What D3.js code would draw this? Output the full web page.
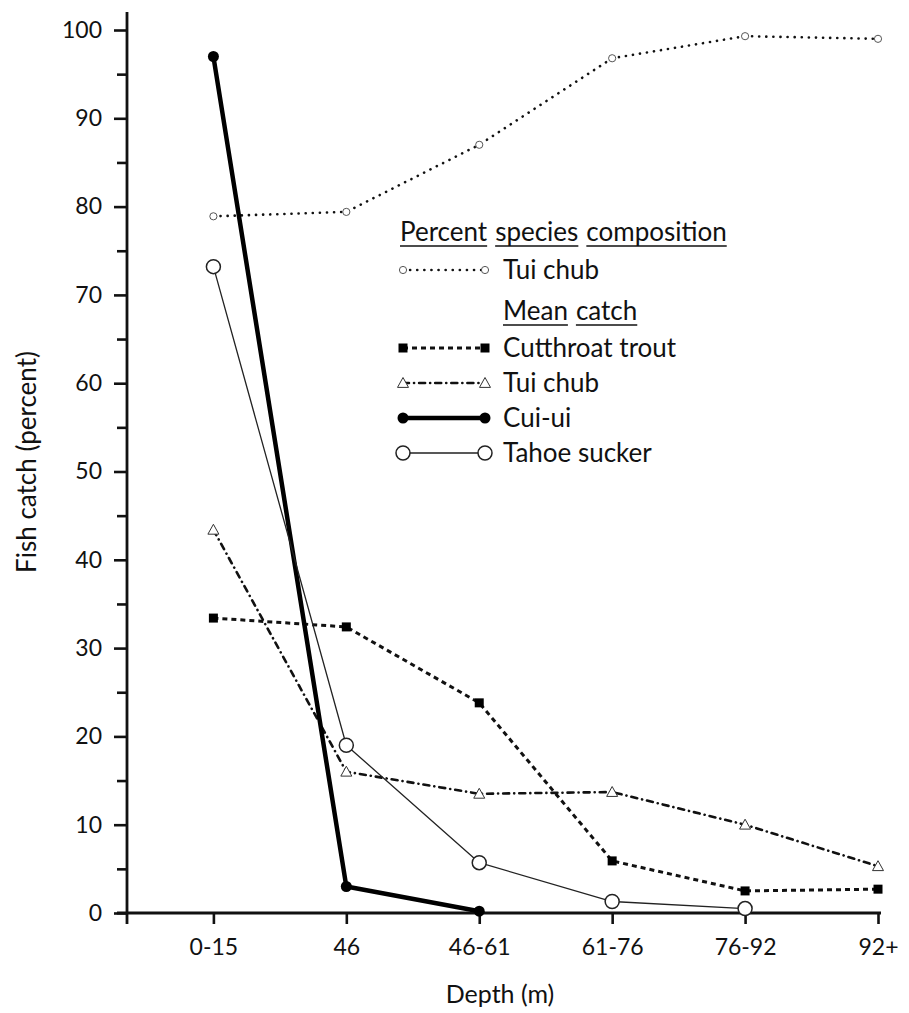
<!DOCTYPE html>
<html>
<head>
<meta charset="utf-8">
<script src="https://cdn.jsdelivr.net/npm/d3@7"></script>
<style>
  html, body { margin: 0; padding: 0; background: #fff; }
  svg { display: block; }
  text { font-family: Lato, "Open Sans", sans-serif; fill: #111; }
</style>
</head>
<body>
<svg id="chart" width="909" height="1013"></svg>
<script>
// ---- Data ----
const categories = ["0-15", "46", "46-61", "61-76", "76-92", "92+"];
const tuiChubPercent = [78.9, 79.4, 87.0, 96.8, 99.3, 99.0];
const cutthroatTrout = [33.4, 32.4, 23.8, 5.9, 2.5, 2.7];
const tuiChubMean = [43.4, 16.0, 13.5, 13.7, 10.0, 5.3];
const cuiUi = [97.0, 3.0, 0.2, null, null, null];
const tahoeSucker = [73.2, 19.0, 5.7, 1.3, 0.5, null];
const yTicks = [0, 10, 20, 30, 40, 50, 60, 70, 80, 90, 100];
const yMinorTicks = [5, 15, 25, 35, 45, 55, 65, 75, 85, 95];

const svg = d3.select("#chart");

const x = d3.scaleLinear().domain([-0.65, 5]).range([127, 878]);
const y = d3.scaleLinear().domain([0, 100]).range([913, 30]);

// ---- Axes ----
const gy = svg.append("g").attr("transform", `translate(${x(-0.65)},0)`);
gy.call(d3.axisLeft(y).tickValues(yTicks).tickSize(13).tickPadding(12).tickFormat(d3.format("d")));
gy.append("g").call(d3.axisLeft(y).tickValues(yMinorTicks).tickSize(10).tickFormat(""));
gy.selectAll(".domain").remove();
gy.selectAll("line").attr("stroke", "#111").attr("stroke-width", 2.6);
gy.selectAll("text").style("font-size", "23px").style("font-family", "Lato, sans-serif").attr("fill", "#111");
gy.append("line").attr("x1", 0).attr("x2", 0).attr("y1", 12).attr("y2", 924)
  .attr("stroke", "#111").attr("stroke-width", 2.8);

const gx = svg.append("g").attr("transform", `translate(0,${y(0)})`);
gx.call(d3.axisBottom(x).tickValues(d3.range(categories.length)).tickSize(11).tickPadding(15)
  .tickFormat(i => categories[i]));
gx.selectAll(".domain").remove();
gx.selectAll("line").attr("stroke", "#111").attr("stroke-width", 2.6);
gx.selectAll("text").style("font-size", "23px").style("font-family", "Lato, sans-serif").attr("fill", "#111");
gx.append("line").attr("x1", 117).attr("x2", 881).attr("y1", 0).attr("y2", 0)
  .attr("stroke", "#111").attr("stroke-width", 2.8);

// Axis titles
svg.append("text").attr("x", 500).attr("y", 1003).attr("text-anchor", "middle")
  .style("font-size", "25px").text("Depth (m)");
svg.append("text").attr("transform", "translate(36,462) rotate(-90)").attr("text-anchor", "middle")
  .style("font-size", "26px").text("Fish catch (percent)");

// ---- Series ----
function seriesPts(vals) {
  return vals.map((v, i) => ({ i, v })).filter(d => d.v !== null);
}
const line = d3.line().x(d => x(d.i)).y(d => y(d.v));

const series = [
  { name: "pct", vals: tuiChubPercent, stroke: "#111", width: 2.6, dash: "0.1 7", cap: "round", marker: "smallcircle" },
  { name: "cut", vals: cutthroatTrout, stroke: "#111", width: 3, dash: "5 4", cap: "butt", marker: "square" },
  { name: "tuim", vals: tuiChubMean, stroke: "#111", width: 2.6, dash: "6 5 0.1 5", cap: "round", marker: "triangle" },
  { name: "cui", vals: cuiUi, stroke: "#000", width: 4.5, dash: null, cap: "round", marker: "dot" },
  { name: "tahoe", vals: tahoeSucker, stroke: "#222", width: 1.3, dash: null, cap: "round", marker: "bigcircle" }
];

function drawMarker(g, type, cx, cy) {
  if (type === "smallcircle") {
    g.append("circle").attr("cx", cx).attr("cy", cy).attr("r", 3.6)
      .attr("fill", "#fff").attr("stroke", "#555").attr("stroke-width", 1);
  } else if (type === "square") {
    g.append("rect").attr("x", cx - 4.5).attr("y", cy - 4.5).attr("width", 9).attr("height", 9).attr("fill", "#000");
  } else if (type === "triangle") {
    const s = 5.5;
    g.append("path").attr("d", `M${cx},${cy - s}L${cx + s},${cy + s * 0.8}L${cx - s},${cy + s * 0.8}Z`)
      .attr("fill", "#fff").attr("stroke", "#333").attr("stroke-width", 1);
  } else if (type === "dot") {
    g.append("circle").attr("cx", cx).attr("cy", cy).attr("r", 5.5).attr("fill", "#000");
  } else if (type === "bigcircle") {
    g.append("circle").attr("cx", cx).attr("cy", cy).attr("r", 7)
      .attr("fill", "#fff").attr("stroke", "#222").attr("stroke-width", 1.5);
  }
}

series.forEach(s => {
  const pts = seriesPts(s.vals);
  const g = svg.append("g");
  g.append("path").datum(pts).attr("d", line).attr("fill", "none")
    .attr("stroke", s.stroke).attr("stroke-width", s.width)
    .attr("stroke-dasharray", s.dash).attr("stroke-linecap", s.cap).attr("stroke-linejoin", "round");
  pts.forEach(d => drawMarker(g, s.marker, x(d.i), y(d.v)));
});

// ---- Legend ----
const lg = svg.append("g");
const lx0 = 403, lx1 = 485, tx = 503;
const legendFont = "26px";
function underlinedWords(words, cx, cy) {
  let xx = cx;
  words.forEach(w => {
    const t = lg.append("text").attr("x", xx).attr("y", cy + 9).style("font-size", legendFont).text(w);
    const wd = t.node().getComputedTextLength();
    lg.append("line").attr("x1", xx).attr("x2", xx + wd).attr("y1", cy + 14).attr("y2", cy + 14)
      .attr("stroke", "#111").attr("stroke-width", 1.6);
    xx += wd + 8;
  });
}
underlinedWords(["Percent", "species", "composition"], 400, 232);
const legendRows = [
  { s: series[0], label: "Tui chub", cy: 270 },
  { s: series[1], label: "Cutthroat trout", cy: 348 },
  { s: series[2], label: "Tui chub", cy: 383 },
  { s: series[3], label: "Cui-ui", cy: 418 },
  { s: series[4], label: "Tahoe sucker", cy: 453 }
];
underlinedWords(["Mean", "catch"], tx, 311);
legendRows.forEach(r => {
  lg.append("line").attr("x1", lx0).attr("x2", lx1).attr("y1", r.cy).attr("y2", r.cy)
    .attr("stroke", r.s.stroke).attr("stroke-width", r.s.width)
    .attr("stroke-dasharray", r.s.dash).attr("stroke-linecap", r.s.cap);
  drawMarker(lg, r.s.marker, lx0, r.cy);
  drawMarker(lg, r.s.marker, lx1, r.cy);
  lg.append("text").attr("x", tx).attr("y", r.cy + 9).style("font-size", legendFont).text(r.label);
});
</script>
</body>
</html>
